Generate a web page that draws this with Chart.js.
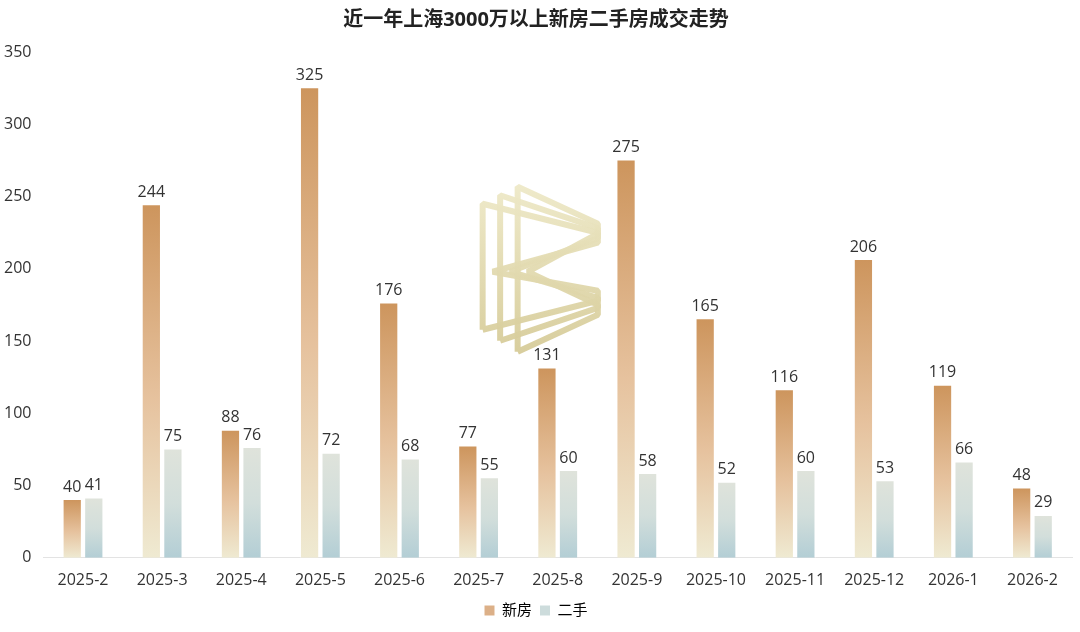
<!DOCTYPE html>
<html>
<head>
<meta charset="utf-8">
<script src="https://cdn.jsdelivr.net/npm/chart.js@4/dist/chart.umd.min.js"></script>
<style>
  html, body { margin: 0; padding: 0; background: #fff; }
  #wrap { width: 1080px; height: 632px; position: relative; }
</style>
</head>
<body>
<div id="wrap"><canvas id="chart"></canvas></div>
<script>
// 数据
const months = ['2025-2', '2025-3', '2025-4', '2025-5', '2025-6', '2025-7', '2025-8',
  '2025-9', '2025-10', '2025-11', '2025-12', '2026-1', '2026-2'];
const newHomes = [40, 244, 88, 325, 176, 77, 131, 275, 165, 116, 206, 119, 48];
const secondHand = [41, 75, 76, 72, 68, 55, 60, 58, 52, 60, 53, 66, 29];
const yTicks = [0, 50, 100, 150, 200, 250, 300, 350];

const FONT = '"Open Sans", "Noto Sans CJK SC", sans-serif';

// 每根柱子自己的渐变（顶部到底部）
function barGradient(stops) {
  return (c) => {
    const chart = c.chart;
    const { ctx, chartArea, scales } = chart;
    if (!chartArea || c.raw == null) return stops[0][1];
    const top = scales.y.getPixelForValue(c.raw);
    const base = scales.y.getPixelForValue(0);
    if (!isFinite(top) || base - top < 1) return stops[0][1];
    const g = ctx.createLinearGradient(0, top, 0, base);
    stops.forEach(([p, col]) => g.addColorStop(p, col));
    return g;
  };
}

const newStops = [[0, '#cd955d'], [0.55, '#e6c29e'], [1, '#efead2']];
const oldStops = [[0, '#dfe3db'], [0.5, '#d2dedb'], [1, '#b3ced5']];

// 柱顶数值
const valueLabels = {
  id: 'valueLabels',
  afterDatasetsDraw(chart) {
    const { ctx } = chart;
    ctx.save();
    ctx.font = '16px ' + FONT;
    ctx.fillStyle = '#333';
    ctx.textAlign = 'center';
    ctx.textBaseline = 'bottom';
    chart.data.datasets.forEach((ds, i) => {
      chart.getDatasetMeta(i).data.forEach((bar, j) => {
        ctx.fillText(ds.data[j], bar.x, bar.y - 5);
      });
    });
    ctx.restore();
  }
};

// 水印 logo（三层三角形 B）
const watermark = {
  id: 'watermark',
  beforeDatasetsDraw(chart) {
    const { ctx, chartArea: a } = chart;
    const w = a.right - a.left, hgt = a.bottom - a.top;
    const ox = a.left + w * 0.427;
    const oy = a.top + hgt * 0.3;
    const r = a.left + w * 0.539;
    const mid = oy + 68;
    ctx.save();
    ctx.lineWidth = 6;
    ctx.lineJoin = 'bevel';
    const g = ctx.createLinearGradient(0, oy - 20, 0, oy + 150);
    g.addColorStop(0, 'rgba(238,233,200,0.95)');
    g.addColorStop(1, 'rgba(214,203,152,0.95)');
    ctx.strokeStyle = g;
    for (let i = 2; i >= 0; i--) {
      const x = ox + i * 17.5;
      const t = oy - i * 8.5;
      const b = oy + 126 + i * 11;
      const k = 0.46;
      ctx.beginPath();
      ctx.moveTo(x, b);
      ctx.lineTo(x, t);
      ctx.lineTo(r, t + k * (r - x) - 12 * (2 - i));
      ctx.lineTo(r, t + k * (r - x) - 12 * (2 - i) + 10);
      ctx.lineTo(x + 10, mid);
      ctx.lineTo(r, b - k * (r - x) + 12 * (2 - i) - 10);
      ctx.lineTo(r, b - k * (r - x) + 12 * (2 - i));
      ctx.lineTo(x, b);
      ctx.stroke();
    }
    ctx.restore();
  }
};

new Chart(document.getElementById('chart'), {
  type: 'bar',
  data: {
    labels: months,
    datasets: [
      { label: '新房', data: newHomes, backgroundColor: barGradient(newStops) },
      { label: '二手', data: secondHand, backgroundColor: barGradient(oldStops) }
    ]
  },
  options: {
    responsive: true,
    maintainAspectRatio: false,
    animation: false,
    categoryPercentage: 0.545,
    barPercentage: 0.8,
    layout: { padding: { left: 0, right: 8, top: 0, bottom: 4 } },
    plugins: {
      title: {
        display: true,
        text: '近一年上海3000万以上新房二手房成交走势',
        color: '#222',
        font: { family: FONT, size: 20, weight: 'bold' },
        padding: { top: 8, bottom: 20 }
      },
      legend: {
        position: 'bottom',
        labels: {
          color: '#333',
          font: { family: FONT, size: 15 },
          boxWidth: 10,
          boxHeight: 10,
          padding: 8,
          generateLabels: () => [
            { text: '新房', fillStyle: '#dcb088', strokeStyle: 'transparent', lineWidth: 0, datasetIndex: 0 },
            { text: '二手', fillStyle: '#cddcdc', strokeStyle: 'transparent', lineWidth: 0, datasetIndex: 1 }
          ]
        }
      },
      tooltip: { enabled: false }
    },
    scales: {
      x: {
        grid: { display: false },
        border: { color: '#e3e3e3' },
        ticks: { color: '#333', font: { family: FONT, size: 16 }, padding: 5 }
      },
      y: {
        min: 0,
        max: 350,
        grid: { display: false },
        border: { display: false },
        afterBuildTicks: (s) => { s.ticks = yTicks.map(v => ({ value: v })); },
        ticks: { color: '#333', font: { family: FONT, size: 16 }, padding: 4 }
      }
    }
  },
  plugins: [watermark, valueLabels]
});
</script>
</body>
</html>
